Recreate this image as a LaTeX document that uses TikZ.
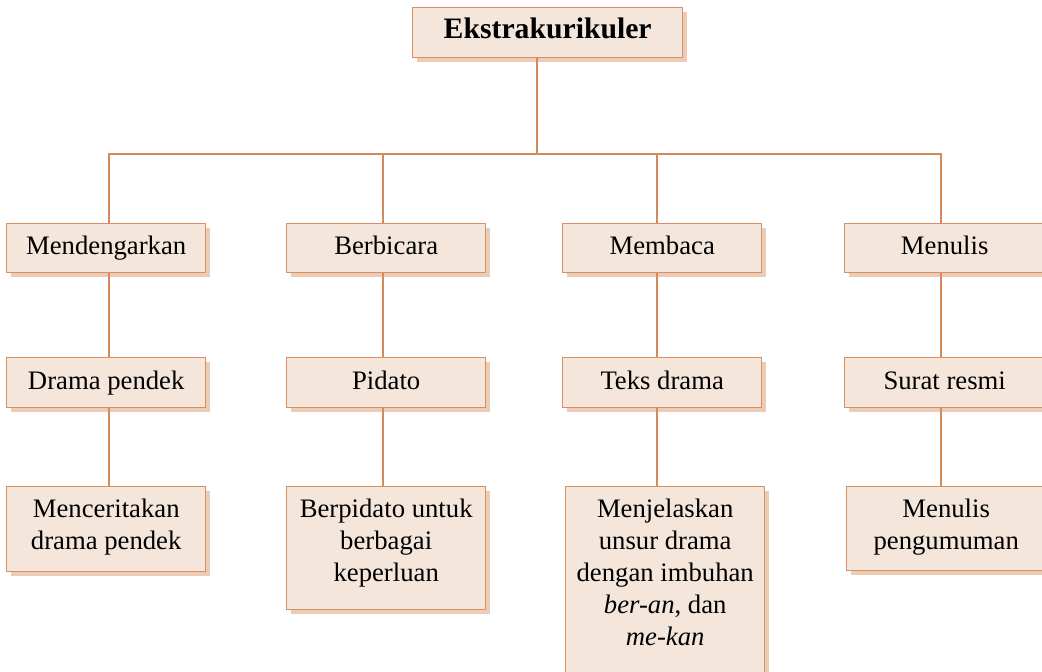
\documentclass[tikz,border=0pt]{standalone}
\usepackage{fontspec}
\setmainfont{Liberation Serif}
\usetikzlibrary{shadows}
\definecolor{boxfill}{HTML}{F4E6DB}
\definecolor{boxdraw}{HTML}{D98F60}
\definecolor{linecol}{HTML}{D6895A}
\definecolor{shadowcol}{HTML}{EACDB4}
\tikzset{
  box/.style={rectangle, draw=boxdraw, fill=boxfill, line width=0.7pt, inner sep=0pt,
    anchor=north west, minimum width=99.5pt, minimum height=24.5pt,
    font=\fontsize{13.35}{16}\selectfont,
    general shadow={fill=shadowcol, shadow xshift=2pt, shadow yshift=-2pt}},
  onebox/.style={box, text height=9pt, text depth=2.6pt},
  conn/.style={draw=linecol, line width=1pt},
}
\newcommand{\tbox}[3][99.5pt]{\parbox[c][#2][t]{#1}{\centering\rule{0pt}{15.5pt}#3}}
\begin{document}
\begin{tikzpicture}[x=0.5pt,y=-0.5pt]
\useasboundingbox (0,0) rectangle (1042,671);
\clip (0,0) rectangle (1042,671);
\coordinate (c0) at (537,0);
\coordinate (c1) at (109,0);
\coordinate (c2) at (383,0);
\coordinate (c3) at (657,0);
\coordinate (c4) at (941,0);
\coordinate (bar) at (0,154);

\node[box, minimum width=135pt, minimum height=25pt, text height=10pt, text depth=4.5pt,
  font=\fontsize{14.85}{17}\selectfont\bfseries] (top) at (412,7) {Ekstrakurikuler};

\node[onebox] (a1) at (6,223) {Mendengarkan};
\node[onebox] (a2) at (286,223) {Berbicara};
\node[onebox] (a3) at (562,223) {Membaca};
\node[onebox, minimum width=100pt] (a4) at (844,223) {Menulis};

\node[onebox, minimum height=25pt] (b1) at (6,357) {Drama pendek};
\node[onebox, minimum height=25pt] (b2) at (286,357) {Pidato};
\node[onebox, minimum height=25pt] (b3) at (562,357) {Teks drama};
\node[onebox, minimum height=25pt, minimum width=100pt] (b4) at (844,357) {Surat resmi};

\node[box] (d1) at (6,486) {\tbox{42.5pt}{Menceritakan\\drama pendek}};
\node[box] (d2) at (286,486) {\tbox{61.5pt}{Berpidato untuk\\berbagai\\keperluan}};
\node[box] (d3) at (565,486) {\tbox{110pt}{Menjelaskan\\unsur drama\\dengan imbuhan\\\textit{ber-an}, dan\\\textit{me-kan}}};
\node[box] (d4) at (846,486) {\tbox[99pt]{42pt}{Menulis\\pengumuman}};

\draw[conn] (top.south -| c0) |- (bar -| c1) -- (a1.north -| c1);
\draw[conn] (top.south -| c0) |- (bar -| c2) -- (a2.north -| c2);
\draw[conn] (top.south -| c0) |- (bar -| c3) -- (a3.north -| c3);
\draw[conn] (top.south -| c0) |- (bar -| c4) -- (a4.north -| c4);

\draw[conn] (a1.south -| c1) -- (b1.north -| c1);
\draw[conn] (a2.south -| c2) -- (b2.north -| c2);
\draw[conn] (a3.south -| c3) -- (b3.north -| c3);
\draw[conn] (a4.south -| c4) -- (b4.north -| c4);

\draw[conn] (b1.south -| c1) -- (d1.north -| c1);
\draw[conn] (b2.south -| c2) -- (d2.north -| c2);
\draw[conn] (b3.south -| c3) -- (d3.north -| c3);
\draw[conn] (b4.south -| c4) -- (d4.north -| c4);
\end{tikzpicture}
\end{document}
